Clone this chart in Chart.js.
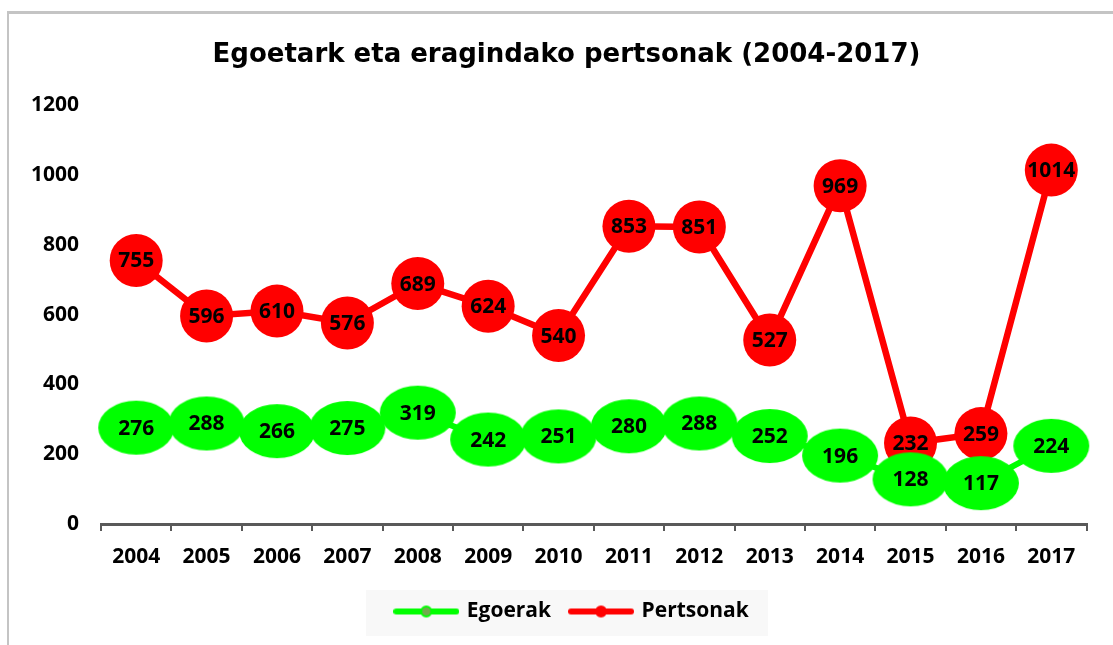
<!DOCTYPE html>
<html>
<head>
<meta charset="utf-8">
<script src="https://cdn.jsdelivr.net/npm/chart.js@4.4.1/dist/chart.umd.min.js"></script>
<style>
body { margin: 0; background: #fff; }
#frame { position: absolute; left: 7px; top: 11px; width: 1200px; height: 700px; border-left: 2px solid #c4c4c4; border-top: 3px solid #c4c4c4; }
#chart { position: absolute; left: 0; top: 0; }
</style>
</head>
<body>
<div id="frame"></div>
<canvas id="chart" width="1113" height="645"></canvas>
<script>
var years = ["2004", "2005", "2006", "2007", "2008", "2009", "2010", "2011", "2012", "2013", "2014", "2015", "2016", "2017"];
var egoerak = [276, 288, 266, 275, 319, 242, 251, 280, 288, 252, 196, 128, 117, 224];
var pertsonak = [755, 596, 610, 576, 689, 624, 540, 853, 851, 527, 969, 232, 259, 1014];
var yTicks = [0, 200, 400, 600, 800, 1000, 1200];

var GREEN = "#00ff00";
var RED = "#ff0000";
var FONT = "Open Sans";
var labelFont = "bold 21px 'Open Sans'";

// green markers are wide ellipses in the original
function ellipseMarker(w, h, color) {
    var c = document.createElement("canvas");
    c.width = w; c.height = h;
    var g = c.getContext("2d");
    g.fillStyle = color;
    g.beginPath();
    g.ellipse(w / 2, h / 2, w / 2 - 1, h / 2 - 1, 0, 0, Math.PI * 2);
    g.fill();
    return c;
}

function legendIcon(lineColor, dotColor) {
    var c = document.createElement("canvas");
    c.width = 66; c.height = 14;
    var g = c.getContext("2d");
    g.strokeStyle = lineColor;
    g.lineWidth = 6;
    g.lineCap = "round";
    g.beginPath(); g.moveTo(3, 7); g.lineTo(63, 7); g.stroke();
    g.fillStyle = dotColor;
    g.strokeStyle = lineColor;
    g.lineWidth = 2;
    g.beginPath(); g.arc(33, 7, 5, 0, Math.PI * 2); g.fill(); g.stroke();
    return c;
}

var greenMarker = ellipseMarker(78, 56, GREEN);
var legendIcons = [legendIcon(GREEN, "#72a94f"), legendIcon(RED, RED)];

var valueLabels = {
    id: "valueLabels",
    afterDatasetsDraw: function (chart) {
        var ctx = chart.ctx;
        ctx.save();
        ctx.font = labelFont;
        ctx.fillStyle = "#000";
        ctx.textAlign = "center";
        ctx.textBaseline = "middle";
        chart.data.datasets.forEach(function (ds, i) {
            chart.getDatasetMeta(i).data.forEach(function (pt, j) {
                ctx.fillText(String(ds.data[j]), pt.x, pt.y + 1);
            });
        });
        ctx.restore();
    }
};

var shiftBoxes = {
    id: "shiftBoxes",
    afterLayout: function (chart) {
        chart.legend.left += 26;
        chart.legend.right += 26;
        chart.titleBlock.left += 20;
        chart.titleBlock.right += 20;
    },
    beforeDraw: function (chart) {
        var ctx = chart.ctx;
        ctx.save();
        ctx.fillStyle = "#f8f8f8";
        ctx.fillRect(366, 590, 402, 46);
        ctx.restore();
    }
};

new Chart("chart", {
    type: "line",
    data: {
        labels: years,
        datasets: [{
            label: "Egoerak",
            data: egoerak,
            borderColor: GREEN,
            backgroundColor: GREEN,
            borderWidth: 6,
            pointStyle: greenMarker,
            pointRadius: 20,
            pointHoverRadius: 20,
            fill: false
        }, {
            label: "Pertsonak",
            data: pertsonak,
            borderColor: RED,
            backgroundColor: RED,
            borderWidth: 6.5,
            pointStyle: "circle",
            pointRadius: 26.5,
            pointHoverRadius: 26.5,
            pointBorderWidth: 0,
            fill: false
        }]
    },
    options: {
        responsive: false,
        animation: false,
        devicePixelRatio: 1,
        layout: { padding: { left: 0, right: 20, top: 0, bottom: 13 } },
        plugins: {
            title: {
                display: true,
                text: "Egoetark eta eragindako pertsonak (2004-2017)",
                color: "#000",
                font: { family: "DejaVu Sans", weight: "bold", size: 26 },
                padding: { top: 40, bottom: 34 }
            },
            legend: {
                position: "bottom",
                labels: {
                    usePointStyle: true,
                    pointStyleWidth: 60,
                    padding: 20,
                    color: "#000",
                    font: { family: FONT, weight: "bold", size: 21 },
                    generateLabels: function (chart) {
                        return chart.data.datasets.map(function (ds, i) {
                            return { text: ds.label, pointStyle: legendIcons[i], datasetIndex: i, lineWidth: 0, hidden: false, fontColor: "#000" };
                        });
                    }
                }
            },
            tooltip: { enabled: false }
        },
        scales: {
            x: {
                offset: true,
                grid: { display: true, drawOnChartArea: false, offset: true, tickLength: 7, color: "#595959", lineWidth: 2 },
                border: { display: true, color: "#595959", width: 3 },
                ticks: { color: "#000", padding: 13, font: { family: FONT, weight: "bold", size: 21 } },
                afterFit: function (s) { s.height = 57; }
            },
            y: {
                min: 0,
                max: 1200,
                grid: { display: false },
                border: { display: false },
                afterBuildTicks: function (axis) { axis.ticks = yTicks.map(function (v) { return { value: v }; }); },
                ticks: {
                    color: "#000", padding: 14, font: { family: FONT, weight: "bold", size: 21 },
                    callback: function (v) { return String(v); }
                },
                afterFit: function (s) { s.width = 101; }
            }
        }
    },
    plugins: [valueLabels, shiftBoxes]
});
</script>
</body>
</html>
